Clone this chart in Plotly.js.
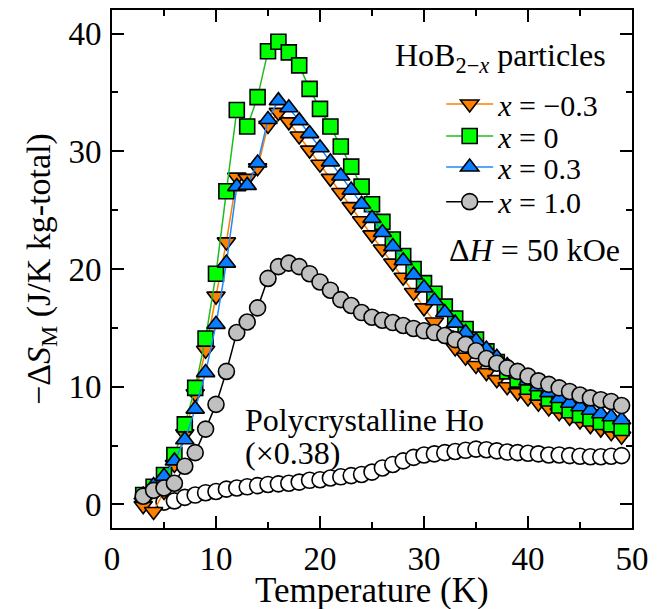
<!DOCTYPE html>
<html>
<head>
<meta charset="utf-8">
<script src="https://cdn.plot.ly/plotly-3.0.1.min.js"></script>
<style>html,body{margin:0;padding:0;background:#fff;}#chart{width:665px;height:609px;}</style>
</head>
<body>
<div id="chart"></div>
<script>
// Temperature (K)
const temps = [3,4,5,6,7,8,9,10,11,12,13,14,15,16,17,18,19,20,21,22,23,24,25,26,27,28,29,30,31,32,33,34,35,36,37,38,39,40,41,42,43,44,45,46,47,48,49];
// -dS_M (J/K kg-total)
const xm03 = [-0.1,-0.6,1.1,3.4,6.0,9.4,13.1,17.7,22.3,27.8,27.7,28.6,32.2,33.3,32.5,31.3,30.1,28.9,27.7,26.5,25.3,24.1,22.9,21.7,20.5,19.3,18.0,16.7,15.5,14.4,13.3,12.5,11.8,11.2,10.6,10.0,9.5,9.05,8.6,8.2,7.8,7.4,7.1,6.7,6.4,6.1,5.8];
const x00 = [0.8,1.5,2.5,4.2,6.8,9.9,14.1,19.6,26.6,33.5,32.1,34.6,38.5,39.3,38.4,37.3,35.3,33.6,32.1,30.4,28.7,27.0,25.5,24.0,22.5,21.1,20.0,18.8,17.9,16.8,15.8,14.9,14.0,13.0,12.1,11.3,10.6,10.0,9.5,9.0,8.4,8.0,7.6,7.3,7.0,6.8,6.5];
const x03 = [0.8,1.6,2.4,3.7,5.5,8.1,11.2,15.3,20.5,27.0,27.1,29.0,32.7,34.3,33.7,32.6,31.5,30.3,29.1,27.9,26.7,25.5,24.3,23.1,21.9,20.7,19.5,18.4,17.3,16.3,15.4,14.6,13.9,13.2,12.5,11.8,11.1,10.5,10.0,9.5,9.0,8.6,8.3,8.0,7.7,7.45,7.2];
const x10 = [0.7,1.2,1.4,1.8,3.25,4.4,6.4,8.5,11.3,14.6,15.5,16.7,19.2,20.2,20.5,20.2,19.6,18.9,18.2,17.4,16.9,16.3,15.9,15.65,15.45,15.2,14.95,14.75,14.6,14.35,14.0,13.6,13.05,12.4,12.0,11.6,11.3,10.9,10.5,10.2,9.9,9.6,9.3,9.05,8.9,8.75,8.4];
// Polycrystalline Ho (x0.38)
const polyTemps = [5,6,7,8,9,10,11,12,13,14,15,16,17,18,19,20,21,22,23,24,25,26,27,28,29,30,31,32,33,34,35,36,37,38,39,40,41,42,43,44,45,46,47,48,49];
const polyHo = [0.2,0.3,0.6,0.8,1.0,1.1,1.3,1.4,1.5,1.6,1.7,1.75,1.8,1.9,2.05,2.1,2.25,2.35,2.45,2.55,2.75,3.1,3.4,3.7,4.0,4.2,4.3,4.4,4.5,4.6,4.7,4.65,4.55,4.45,4.4,4.35,4.3,4.2,4.2,4.15,4.1,4.05,4.05,4.1,4.15];

const seriesNames = ['<i>x</i> = −0.3','<i>x</i> = 0','<i>x</i> = 0.3','<i>x</i> = 1.0'];

const FONT = 'Liberation Serif';
const mline = {color:'#000', width:1.6};

const traces = [
  {x: polyTemps, y: polyHo, mode:'markers', showlegend:false,
   marker:{symbol:'circle', size:16, color:'#ffffff', line:mline}},
  {x: temps, y: xm03, mode:'lines+markers', name: seriesNames[0], legend:'legend',
   line:{color:'#FF7F00', width:1.5},
   marker:{symbol:'triangle-down', size:16, color:'#FF7F00', line:mline}},
  {x: temps, y: x00, mode:'lines+markers', name: seriesNames[1], legend:'legend2',
   line:{color:'#22BB22', width:1.5},
   marker:{symbol:'square', size:15, color:'#00FF00', line:mline}},
  {x: temps, y: x03, mode:'lines+markers', name: seriesNames[2], legend:'legend3',
   line:{color:'#1E88FF', width:1.5},
   marker:{symbol:'triangle-up', size:16, color:'#0A7CFF', line:mline}},
  {x: temps, y: x10, mode:'lines+markers', name: seriesNames[3], legend:'legend4',
   line:{color:'#000000', width:1.5},
   marker:{symbol:'circle', size:16, color:'#C0C0C0', line:mline}}
];

function leg(y){
  return {x:0.633, y:y, xanchor:'left', yanchor:'middle', bgcolor:'rgba(0,0,0,0)',
          borderwidth:0, itemwidth:47, font:{family:FONT, size:30, color:'#000'}};
}

function axisBase(){
  return {
    showline:true, linecolor:'#000', linewidth:2, mirror:'allticks',
    ticks:'inside', ticklen:12, tickwidth:2, tickcolor:'#000',
    showgrid:false, zeroline:false,
    tickfont:{family:FONT, size:33, color:'#000'},
    minor:{dtick:5, ticks:'inside', ticklen:6, tickwidth:2, tickcolor:'#000'}
  };
}

const layout = {
  width:665, height:609,
  margin:{l:112, r:33, t:10, b:81},
  paper_bgcolor:'#fff', plot_bgcolor:'#fff',
  font:{family:FONT, color:'#000'},
  xaxis: Object.assign(axisBase(), {
    range:[0,50], dtick:10, tick0:0, ticklabelstandoff:0
  }),
  yaxis: Object.assign(axisBase(), {
    range:[-2,42], dtick:10, tick0:0, ticklabelstandoff:2,
    title:{text:'−Δ<i>S</i><sub>M</sub> (J/K kg-total)', font:{family:FONT, size:34, color:'#000'}, standoff:8}
  }),
  legend: leg(0.8185),
  legend2: leg(0.7568),
  legend3: leg(0.697),
  legend4: leg(0.63),
  annotations:[
    {xref:'paper', yref:'paper', x:0.5, y:(528-590)/518, xanchor:'center', yanchor:'middle',
     showarrow:false, text:'Temperature (K)', font:{family:FONT, size:35, color:'#000'}},
    {xref:'paper', yref:'paper', x:(393-112)/520, y:(528-57)/518, xanchor:'left', yanchor:'middle',
     showarrow:false, text:'HoB<sub>2−<i>x</i></sub> particles', font:{family:FONT, size:32, color:'#000'}},
    {xref:'paper', yref:'paper', x:(622-112)/520, y:(528-250)/518, xanchor:'right', yanchor:'middle',
     showarrow:false, text:'Δ<i>H</i> = 50 kOe', font:{family:FONT, size:32, color:'#000'}},
    {xref:'paper', yref:'paper', x:(243-112)/520, y:(528-420)/518, xanchor:'left', yanchor:'middle',
     showarrow:false, text:'Polycrystalline Ho', font:{family:FONT, size:32, color:'#000'}},
    {xref:'paper', yref:'paper', x:(243-112)/520, y:(528-453)/518, xanchor:'left', yanchor:'middle',
     showarrow:false, text:'(×0.38)', font:{family:FONT, size:32, color:'#000'}}
  ]
};

Plotly.newPlot('chart', traces, layout, {displayModeBar:false, staticPlot:true});
</script>
</body>
</html>
